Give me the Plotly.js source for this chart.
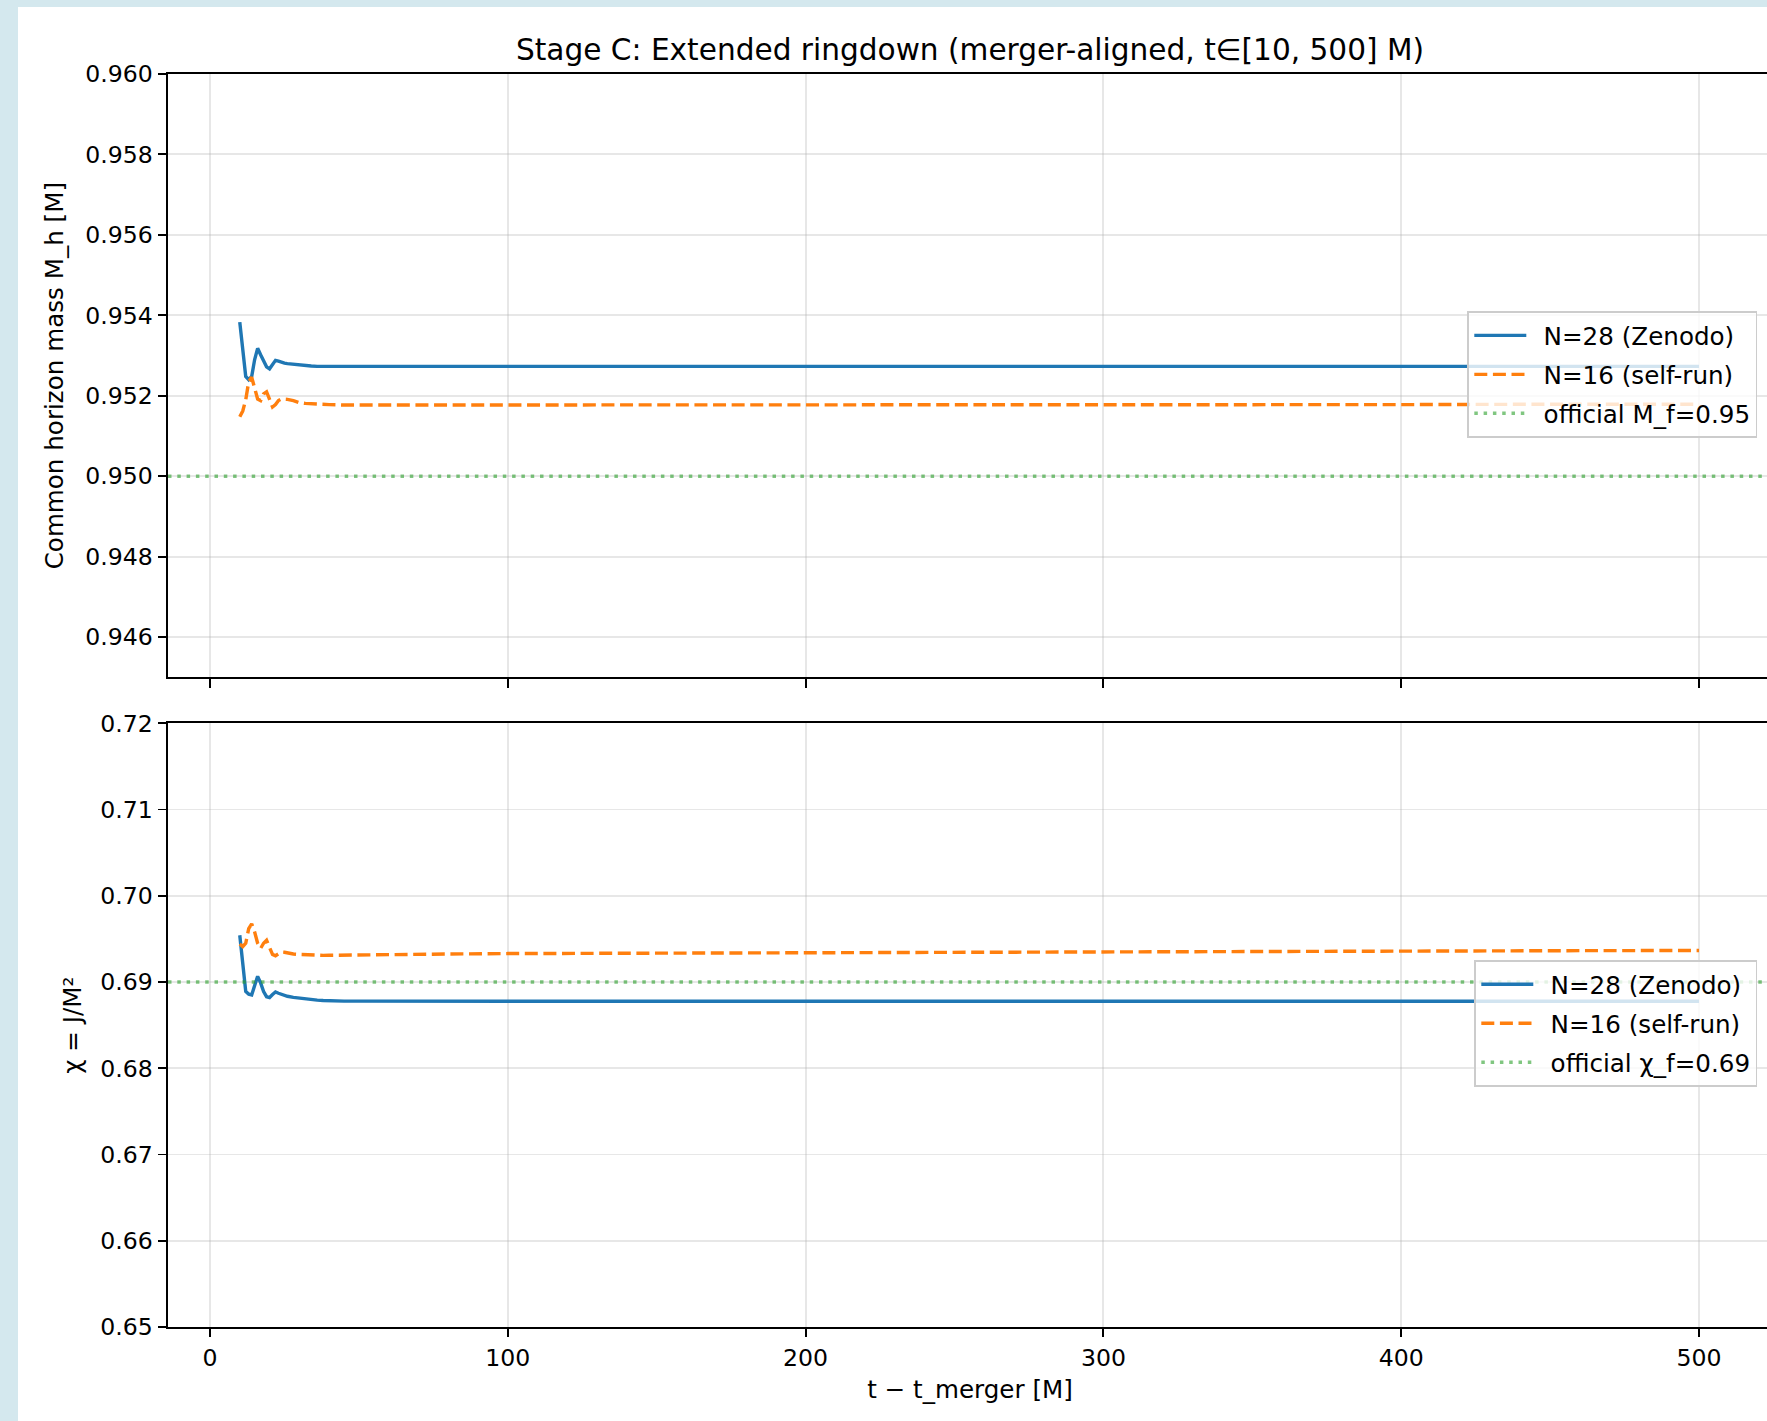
<!DOCTYPE html>
<html>
<head>
<meta charset="utf-8">
<script src="https://cdn.plot.ly/plotly-3.0.1.min.js"></script>
<style>
  html, body { margin: 0; padding: 0; background: rgb(212,232,238); overflow: hidden; width: 1767px; height: 1421px; }
  #chart { position: absolute; left: 18px; top: 7px; width: 1780px; height: 1414px; background: #fff; }
</style>
</head>
<body>
<div id="chart"></div>
<script>
// ---- data ----
const t = [10, 11, 12, 13, 14, 15, 16, 17, 18, 19, 20, 21, 22, 23, 24, 25, 26, 28, 30, 32, 34, 36, 38, 40, 45, 50, 60, 80, 100, 150, 200, 250, 300, 350, 400, 450, 500];

const massN28 = [0.95383, 0.95320, 0.95248, 0.95240, 0.95248, 0.95290, 0.95318, 0.95302, 0.95285, 0.95272, 0.95267, 0.95278, 0.95288, 0.95286, 0.95283, 0.95281, 0.95280, 0.95278, 0.95276, 0.95275, 0.95274, 0.95273, 0.95273, 0.95273, 0.95273, 0.95273, 0.95273, 0.95273, 0.95273, 0.95273, 0.95273, 0.95273, 0.95273, 0.95273, 0.95273, 0.95273, 0.95273];
const massN16 = [0.95148, 0.95162, 0.95190, 0.95235, 0.95246, 0.95218, 0.95192, 0.95188, 0.95205, 0.95210, 0.95190, 0.95172, 0.95178, 0.95188, 0.95192, 0.95192, 0.95191, 0.95188, 0.95183, 0.95181, 0.95180, 0.95179, 0.95178, 0.95178, 0.95177, 0.95177, 0.95176, 0.95176, 0.95176, 0.95176, 0.95177, 0.95177, 0.95178, 0.95178, 0.95178, 0.95179, 0.95179];

const chiN28 = [0.69543, 0.69200, 0.68890, 0.68860, 0.68850, 0.68960, 0.69066, 0.68990, 0.68890, 0.68830, 0.68820, 0.68855, 0.68884, 0.68870, 0.68855, 0.68845, 0.68835, 0.68822, 0.68812, 0.68803, 0.68796, 0.68790, 0.68786, 0.68782, 0.68779, 0.68778, 0.68777, 0.68777, 0.68777, 0.68777, 0.68777, 0.68777, 0.68777, 0.68777, 0.68777, 0.68777, 0.68777];
const chiN16 = [0.69440, 0.69410, 0.69450, 0.69620, 0.69675, 0.69580, 0.69450, 0.69390, 0.69450, 0.69485, 0.69400, 0.69320, 0.69305, 0.69330, 0.69348, 0.69345, 0.69335, 0.69325, 0.69320, 0.69315, 0.69312, 0.69310, 0.69309, 0.69310, 0.69313, 0.69316, 0.69320, 0.69325, 0.69330, 0.69336, 0.69342, 0.69348, 0.69353, 0.69357, 0.69360, 0.69363, 0.69366];

const officialMf = 0.95;
const officialChi = 0.69;
const xRange = [-14.1, 524.5];

const names = ["N=28 (Zenodo)", "N=16 (self-run)"];
const titleText = "Stage C: Extended ringdown (merger-aligned, t∈[10, 500] M)";

// ---- styling ----
const FONT = "DejaVu Sans";
const FS = 23.6;      // tick labels
const FL = 24.6;      // axis labels / legend
const BLUE = "#1f77b4", ORANGE = "#ff7f0e", GREEN = "rgba(44,160,44,0.6)";
const LW = 3.4;
const GAP = "\u2002"; // visual gap between legend sample and label

function tr(x, y, name, color, dash, xa, ya, leg, grp) {
  return { x: x, y: y, name: GAP + name, type: "scatter", mode: "lines",
    line: { color: color, width: LW, dash: dash },
    xaxis: xa, yaxis: ya, legend: leg, legendgroup: grp, hoverinfo: "skip" };
}

const data = [
  tr(t, massN28, names[0], BLUE, "solid", "x", "y", "legend", "a1"),
  tr(t, massN16, names[1], ORANGE, "13px,5.6px", "x", "y", "legend", "a2"),
  tr(xRange, [officialMf, officialMf], "official M_f=" + officialMf.toFixed(2), GREEN, "3.5px,5.8px", "x", "y", "legend", "a3"),
  tr(t, chiN28, names[0], BLUE, "solid", "x2", "y2", "legend2", "b1"),
  tr(t, chiN16, names[1], ORANGE, "13px,5.6px", "x2", "y2", "legend2", "b2"),
  tr(xRange, [officialChi, officialChi], "official χ_f=" + officialChi.toFixed(2), GREEN, "3.5px,5.8px", "x2", "y2", "legend2", "b3")
];

const axCommon = {
  showline: true, linecolor: "#000", linewidth: 1.9, mirror: true,
  ticks: "outside", ticklen: 8.5, tickwidth: 1.9, tickcolor: "#000",
  showgrid: true, gridcolor: "rgba(176,176,176,0.3)", gridwidth: 1.9,
  zeroline: false, tickfont: { family: FONT, size: FS, color: "#000" }
};

const legCommon = {
  xref: "paper", yref: "paper", x: 0.9909, xanchor: "right", yanchor: "middle",
  bgcolor: "rgba(255,255,255,0.8)", bordercolor: "#cccccc", borderwidth: 1.9,
  font: { family: FONT, size: FL, color: "#000" }, traceorder: "grouped", tracegroupgap: 4,
  itemwidth: 52
};

const layout = {
  width: 1780, height: 1414,
  margin: { l: 150, r: 26, t: 67, b: 94 },
  paper_bgcolor: "#fff", plot_bgcolor: "#fff",
  font: { family: FONT, size: FS, color: "#000" },
  title: { text: titleText, font: { family: FONT, size: 29.6, color: "#000" },
           x: 0.5, xref: "paper", xanchor: "center", y: 0.9700, yref: "container", yanchor: "middle" },
  xaxis: Object.assign({}, axCommon, { range: xRange, tick0: 0, dtick: 100, anchor: "y", showticklabels: false }),
  yaxis: Object.assign({}, axCommon, { domain: [0.5185, 1], range: [0.945, 0.960], dtick: 0.002, tick0: 0, tickformat: ".3f",
    title: { text: "Common horizon mass M_h [M]", font: { family: FONT, size: FL, color: "#000" }, standoff: 15 } }),
  xaxis2: Object.assign({}, axCommon, { range: xRange, tick0: 0, dtick: 100, anchor: "y2",
    title: { text: "t − t_merger [M]", font: { family: FONT, size: FL, color: "#000" }, standoff: 10 } }),
  yaxis2: Object.assign({}, axCommon, { domain: [0, 0.4818], range: [0.65, 0.72], dtick: 0.01, tick0: 0, tickformat: ".2f", anchor: "x2",
    title: { text: "χ = J/M²", font: { family: FONT, size: FL, color: "#000" }, standoff: 12 } }),
  legend: Object.assign({}, legCommon, { y: 0.7602 }),
  legend2: Object.assign({}, legCommon, { y: 0.2423 }),
  showlegend: true
};

Plotly.newPlot("chart", data, layout, { displayModeBar: false, staticPlot: true });
</script>
</body>
</html>
